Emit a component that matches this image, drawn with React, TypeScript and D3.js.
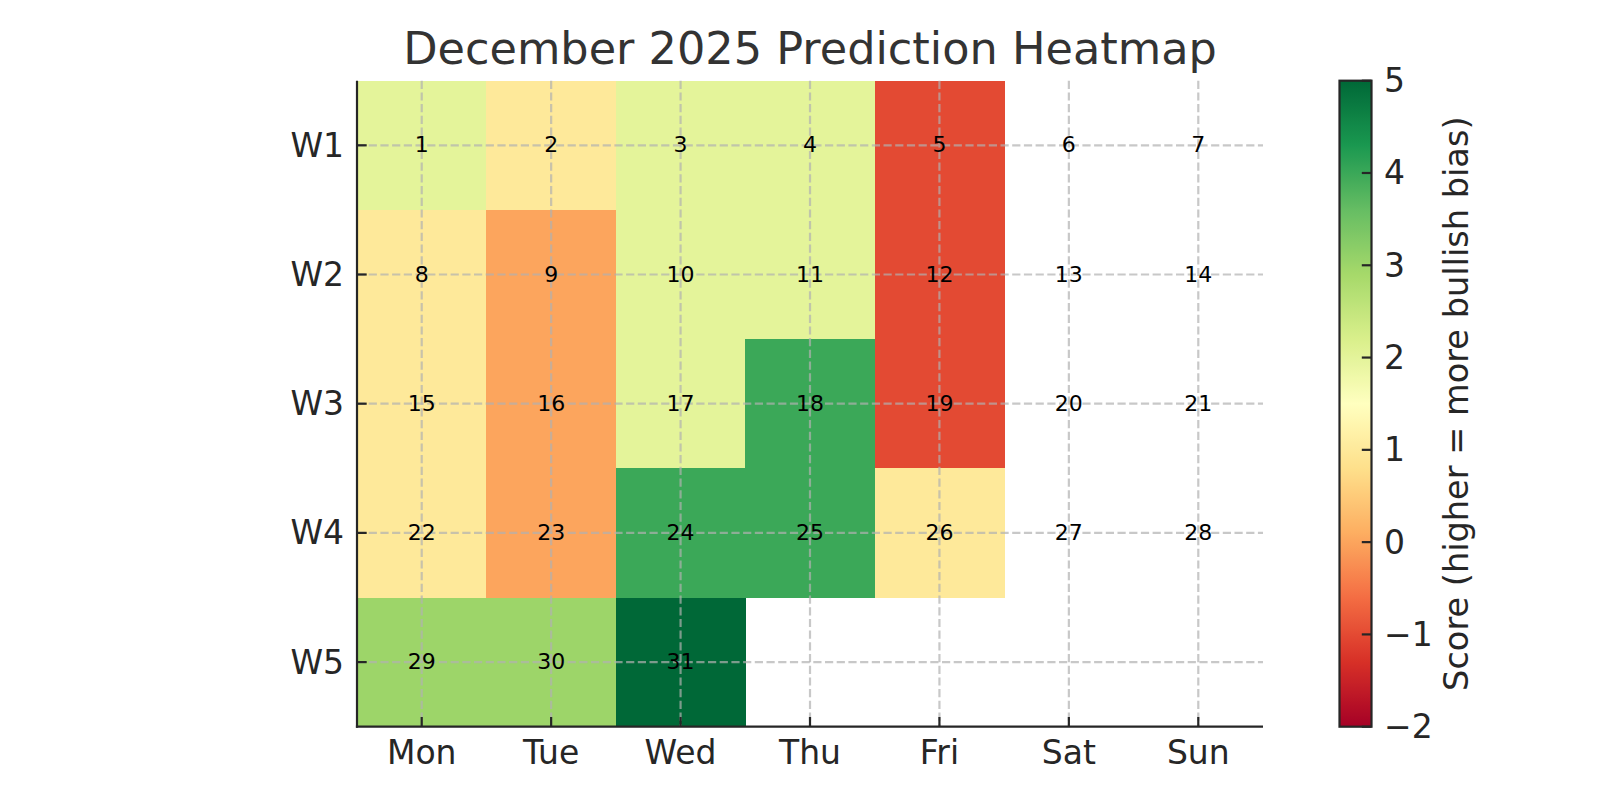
import React from "react";
import * as d3 from "d3";

const days = ["Mon", "Tue", "Wed", "Thu", "Fri", "Sat", "Sun"];
const weeks = ["W1", "W2", "W3", "W4", "W5"];
// scores per week (null = no value)
const w1 = [2, 1, 2, 2, -1, null, null];
const w2 = [1, 0, 2, 2, -1, null, null];
const w3 = [1, 0, 2, 4, -1, null, null];
const w4 = [1, 0, 4, 4, 1, null, null];
const w5 = [3, 3, 5, null, null, null, null];
const scores = [w1, w2, w3, w4, w5];
const dates1 = [1, 2, 3, 4, 5, 6, 7];
const dates2 = [8, 9, 10, 11, 12, 13, 14];
const dates3 = [15, 16, 17, 18, 19, 20, 21];
const dates4 = [22, 23, 24, 25, 26, 27, 28];
const dates5 = [29, 30, 31, null, null, null, null];
const dates = [dates1, dates2, dates3, dates4, dates5];
const cbTicks = [-2, -1, 0, 1, 2, 3, 4, 5];
const rdylgn = ["#a50026", "#d73027", "#f46d43", "#fdae61", "#fee08b", "#ffffbf", "#d9ef8b", "#a6d96a", "#66bd63", "#1a9850", "#006837"];
const vmin = -2, vmax = 5;

const W = 1600, H = 800;
const L = 357, R = 1263, T = 80.7, B = 726.7;
const CBL = 1339.5, CBR = 1371.5;
const FONT = "'DejaVu Sans', sans-serif";
const TXT = "#262626";

export default function App() {
  const x = d3.scaleBand<string>().domain(days).range([L, R]);
  const y = d3.scaleBand<string>().domain(weeks).range([T, B]);
  const color = d3
    .scaleLinear<string>()
    .domain(rdylgn.map((_, i) => vmin + ((vmax - vmin) * i) / (rdylgn.length - 1)))
    .range(rdylgn)
    .interpolate(d3.interpolateRgb);
  const cbY = d3.scaleLinear().domain([vmin, vmax]).range([B, T]);
  const stops = d3.range(0, 101).map((i) => {
    const v = vmin + ((vmax - vmin) * i) / 100;
    return { off: `${i}%`, c: color(v) };
  });
  const tick = 9.7;
  const lw = 2.2;
  return (
    <svg width={W} height={H} style={{ display: "block", position: "absolute", left: 0, top: 0 }} fontFamily={FONT}>
      <defs>
        <linearGradient id="cb" x1="0" y1="1" x2="0" y2="0">
          {stops.map((s) => (
            <stop key={s.off} offset={s.off} stopColor={s.c} />
          ))}
        </linearGradient>
      </defs>
      <rect width={W} height={H} fill="#fff" />
      <text x={(L + R) / 2} y={49} textAnchor="middle" dominantBaseline="central" fontSize={44.6} fill="#333">
        December 2025 Prediction Heatmap
      </text>
      {/* cells */}
      <g shapeRendering="crispEdges">
        {scores.map((row, ri) =>
          row.map((v, ci) =>
            v === null ? null : (
              <rect
                key={`c${ri}-${ci}`}
                x={x(days[ci])!}
                y={y(weeks[ri])!}
                width={x.bandwidth() + 0.6}
                height={y.bandwidth() + 0.6}
                fill={color(v)}
              />
            )
          )
        )}
      </g>
      {/* grid */}
      {days.map((d) => (
        <line key={`gx${d}`} x1={x(d)! + x.bandwidth() / 2} x2={x(d)! + x.bandwidth() / 2} y1={T} y2={B}
          stroke="#b0b0b0" strokeOpacity={0.7} strokeWidth={2.2} strokeDasharray="8.2,3.5" />
      ))}
      {weeks.map((w) => (
        <line key={`gy${w}`} y1={y(w)! + y.bandwidth() / 2} y2={y(w)! + y.bandwidth() / 2} x1={L} x2={R}
          stroke="#b0b0b0" strokeOpacity={0.7} strokeWidth={2.2} strokeDasharray="8.2,3.5" />
      ))}
      {/* date labels */}
      {dates.map((row, ri) =>
        row.map((dn, ci) =>
          dn === null ? null : (
            <text key={`t${ri}-${ci}`} x={x(days[ci])! + x.bandwidth() / 2} y={y(weeks[ri])! + y.bandwidth() / 2 - 0.5}
              textAnchor="middle" dominantBaseline="central" fontSize={22} fill="#000">
              {dn}
            </text>
          )
        )
      )}
      {/* axes spines */}
      <line x1={L} x2={L} y1={T} y2={B + lw / 2} stroke={TXT} strokeWidth={lw} />
      <line x1={L - lw / 2} x2={R} y1={B} y2={B} stroke={TXT} strokeWidth={lw} />
      {days.map((d) => (
        <g key={`xt${d}`}>
          <line x1={x(d)! + x.bandwidth() / 2} x2={x(d)! + x.bandwidth() / 2} y1={B} y2={B - tick} stroke={TXT} strokeWidth={lw} />
          <text x={x(d)! + x.bandwidth() / 2} y={752} textAnchor="middle" dominantBaseline="central" fontSize={33} fill={TXT}>
            {d}
          </text>
        </g>
      ))}
      {weeks.map((w) => (
        <g key={`yt${w}`}>
          <line x1={L} x2={L + tick} y1={y(w)! + y.bandwidth() / 2} y2={y(w)! + y.bandwidth() / 2} stroke={TXT} strokeWidth={lw} />
          <text x={344} y={y(w)! + y.bandwidth() / 2} textAnchor="end" dominantBaseline="central" fontSize={33} fill={TXT}>
            {w}
          </text>
        </g>
      ))}
      {/* colorbar */}
      <rect x={CBL} y={T} width={CBR - CBL} height={B - T} fill="url(#cb)" />
      {cbTicks.map((t) => (
        <g key={`cb${t}`}>
          <line x1={CBR} x2={CBR - tick} y1={cbY(t)} y2={cbY(t)} stroke={TXT} strokeWidth={lw} />
          <text x={1384} y={cbY(t)} dominantBaseline="central" fontSize={33} fill={TXT}>
            {t < 0 ? `\u2212${Math.abs(t)}` : t}
          </text>
        </g>
      ))}
      <rect x={CBL} y={T} width={CBR - CBL} height={B - T} fill="none" stroke={TXT} strokeWidth={lw} />
      <text transform={`translate(1456,${(T + B) / 2}) rotate(-90)`} textAnchor="middle" dominantBaseline="central" fontSize={33.6} fill={TXT}>
        Score (higher = more bullish bias)
      </text>
    </svg>
  );
}
